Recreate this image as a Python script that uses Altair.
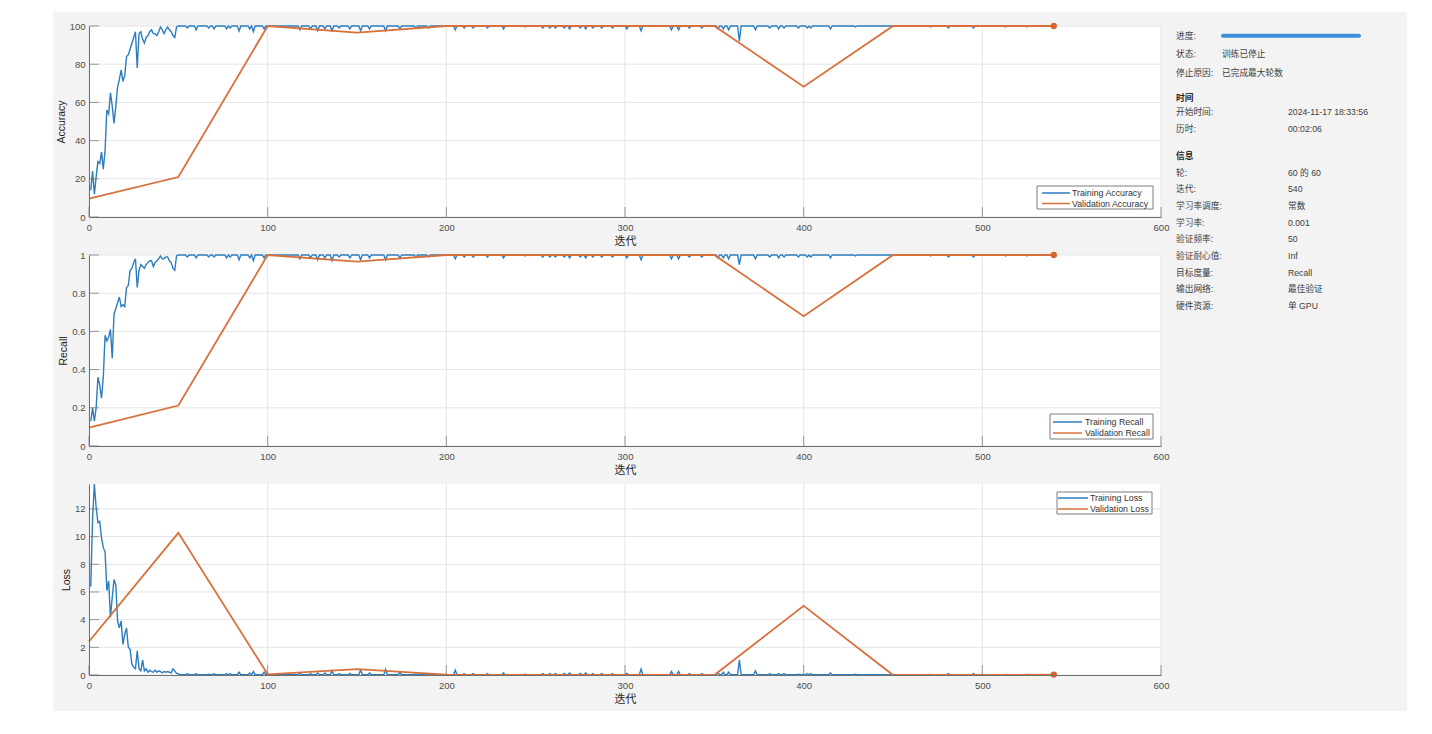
import altair as alt
import pandas as pd

# ---------------- data ----------------
iterations_total = 540

train_acc_early = [14, 24, 12, 21, 29, 28, 34, 25, 35, 56, 54, 65, 58, 49, 58, 68, 72, 77, 71, 74,
                   84, 85, 88, 91, 94, 97, 78, 96, 97, 93, 91, 94, 95, 97, 98, 96, 96, 95, 97, 99.5,
                   98, 96, 98, 99.5, 98, 97, 95, 94, 99.5, 100]
train_recall_early = [0.13, 0.20, 0.13, 0.20, 0.36, 0.32, 0.25, 0.36, 0.58, 0.55, 0.57, 0.61, 0.46, 0.69,
                      0.72, 0.75, 0.78, 0.73, 0.74, 0.73, 0.83, 0.84, 0.92, 0.93, 0.96, 0.98, 0.83, 0.92,
                      0.95, 0.94, 0.93, 0.95, 0.96, 0.97, 0.97, 0.94, 0.96, 0.97, 0.98, 0.995, 0.98, 0.98,
                      0.99, 0.99, 0.97, 0.96, 0.93, 0.92, 0.995, 1.0]
train_loss_early = [6.4, 11.3, 13.8, 12.1, 11.0, 11.1, 9.9, 9.2, 8.9, 6.1, 6.8, 4.15, 5.6, 6.9, 6.5, 3.9,
                    3.4, 3.9, 2.2, 2.95, 3.4, 2.0, 1.85, 0.8, 0.55, 0.45, 1.75, 0.45, 0.3, 1.1, 0.3, 0.45,
                    0.2, 0.35, 0.25, 0.2, 0.35, 0.2, 0.3, 0.25, 0.15, 0.25, 0.2, 0.25, 0.2, 0.15, 0.45,
                    0.3, 0.12, 0.08]

# after the early phase the training curves sit on a plateau, with these dips / spikes
plateau_acc = 100.0
plateau_recall = 1.0
plateau_loss = 0.02
dip_iters = [55, 60, 67, 70, 77, 79, 84, 90, 92, 98, 118, 124, 128, 132, 136, 140, 146, 152, 157, 166,
             174, 183, 190, 205, 210, 215, 223, 232, 244, 254, 258, 261, 266, 269, 275, 278, 282, 287,
             293, 301, 309, 326, 330, 336, 343, 352, 355, 358, 364, 373, 381, 386, 389, 397, 402, 404,
             415, 429, 471, 481, 495, 513, 525]
dip_acc = [99, 98, 99, 98.5, 98.5, 99, 97.4, 98.5, 97, 98.5, 98, 98.5, 97.5, 98.5, 97.5, 99, 98.5, 97.5,
           98.5, 97.5, 98.5, 99, 99, 98, 99, 99, 99, 98.5, 99.5, 99, 99, 99, 99, 98.5, 99, 98.5, 99, 99,
           99, 98.5, 97.5, 98, 98, 99, 99, 98.5, 98.5, 98, 92, 98, 99, 98.5, 99, 99, 99, 99, 98.5, 99.5,
           99.5, 99, 99, 99.5, 99.5]
dip_recall = [0.99, 0.985, 0.99, 0.99, 0.985, 0.99, 0.975, 0.985, 0.97, 0.985, 0.98, 0.985, 0.975, 0.985,
              0.97, 0.99, 0.985, 0.975, 0.985, 0.975, 0.985, 0.99, 0.99, 0.98, 0.99, 0.99, 0.99, 0.985,
              0.995, 0.99, 0.99, 0.99, 0.99, 0.985, 0.99, 0.985, 0.99, 0.99, 0.99, 0.985, 0.975, 0.98,
              0.98, 0.99, 0.99, 0.985, 0.985, 0.98, 0.95, 0.98, 0.99, 0.985, 0.99, 0.99, 0.99, 0.99,
              0.985, 0.995, 0.995, 0.99, 0.99, 0.995, 0.995]
dip_loss = [0.1, 0.08, 0.05, 0.08, 0.1, 0.1, 0.2, 0.15, 0.25, 0.2, 0.15, 0.1, 0.15, 0.15, 0.3, 0.1, 0.12,
            0.36, 0.15, 0.4, 0.2, 0.1, 0.1, 0.35, 0.08, 0.1, 0.1, 0.15, 0.05, 0.1, 0.1, 0.1, 0.12, 0.15,
            0.12, 0.15, 0.1, 0.1, 0.1, 0.12, 0.43, 0.25, 0.25, 0.1, 0.08, 0.15, 0.2, 0.2, 1.1, 0.3, 0.08,
            0.1, 0.1, 0.05, 0.1, 0.1, 0.15, 0.05, 0.04, 0.1, 0.1, 0.04, 0.04]

val_iters = [0, 50, 100, 150, 200, 250, 300, 350, 400, 450, 500, 540]
val_acc = [9.6, 20.9, 100, 96.5, 100, 100, 100, 100, 68.2, 100, 100, 100]
val_recall = [0.096, 0.212, 1.0, 0.965, 1.0, 1.0, 1.0, 1.0, 0.68, 1.0, 1.0, 1.0]
val_loss = [2.42, 10.27, 0.05, 0.43, 0.02, 0.0, 0.0, 0.0, 5.0, 0.0, 0.0, 0.03]

x_ticks = [0, 100, 200, 300, 400, 500, 600]
acc_ticks = [0, 20, 40, 60, 80, 100]
recall_ticks = [0, 0.2, 0.4, 0.6, 0.8, 1]
loss_ticks = [0, 2, 4, 6, 8, 10, 12]

legend_acc = ["Training Accuracy", "Validation Accuracy"]
legend_recall = ["Training Recall", "Validation Recall"]
legend_loss = ["Training Loss", "Validation Loss"]

info_labels = ["进度:", "状态:", "停止原因:", "时间", "开始时间:", "历时:", "信息", "轮:", "迭代:",
               "学习率调度:", "学习率:", "验证频率:", "验证耐心值:", "目标度量:", "输出网络:", "硬件资源:"]
info_values = ["", "训练已停止", "已完成最大轮数", "", "2024-11-17 18:33:56", "00:02:06", "", "60 的 60",
               "540", "常数", "0.001", "50", "Inf", "Recall", "最佳验证", "单 GPU"]
info_headers = ["时间", "信息"]

# ---------------- build tables ----------------
def build(early, plateau, dips):
    dmap = dict(zip(dip_iters, dips))
    out = []
    for it in range(1, iterations_total + 1):
        if it <= len(early):
            out.append(early[it - 1])
        elif it in dmap:
            out.append(dmap[it])
        else:
            out.append(plateau)
    return out

train_df = pd.DataFrame({
    "it": list(range(1, iterations_total + 1)),
    "acc": build(train_acc_early, plateau_acc, dip_acc),
    "recall": build(train_recall_early, plateau_recall, dip_recall),
    "loss": build(train_loss_early, plateau_loss, dip_loss),
})
val_df = pd.DataFrame({"it": val_iters, "acc": val_acc, "recall": val_recall, "loss": val_loss})
last_df = val_df.iloc[[-1]]
one = pd.DataFrame({"k": [0]})

# ---------------- style / layout ----------------
W, H = 1072, 191
BLUE = "#2c7dc0"
ORANGE = "#d9703a"
GRID = "#e4e4e4"
AXIS = "#707070"
LABEL = "#4d4d4d"
TITLE = "#262626"
FIG_BG = "#f3f3f3"
FONT = "Liberation Sans, Noto Sans CJK SC"

x_scale = alt.Scale(domain=[0, 600], nice=False, zero=False)


def legend_layers(box, rows, line_x, text_x, labels):
    out = [alt.Chart(one).mark_rect(fill="white", stroke="#7d7d7d", strokeWidth=1).encode(
        x=alt.value(box[0]), x2=alt.value(box[2]), y=alt.value(box[1]), y2=alt.value(box[3]))]
    for lab, col, ry in zip(labels, [BLUE, ORANGE], rows):
        out.append(alt.Chart(one).mark_rule(color=col, strokeWidth=1.5).encode(
            x=alt.value(line_x[0]), x2=alt.value(line_x[1]), y=alt.value(ry)))
        out.append(alt.Chart(one).mark_text(text=lab, align="left", baseline="middle", fontSize=8.8,
                                            font=FONT, color="#333333").encode(
            x=alt.value(text_x), y=alt.value(ry)))
    return out


def panel(col, ytitle, ydom, yticks, labels, leg, first=False):
    ys = alt.Scale(domain=ydom, nice=False, zero=False)
    xaxis = alt.Axis(values=x_ticks, title="迭代", grid=False, ticks=False, labelFlush=False,
                     labelOverlap=False, labelPadding=5, titlePadding=4, zindex=1,
                     domainColor=AXIS, labelColor=LABEL, titleColor=TITLE, labelFontSize=9.5,
                     titleFontSize=11, labelFont=FONT, titleFont=FONT, titleFontWeight="normal")
    yaxis = alt.Axis(values=yticks, format=".6~g", title=ytitle, grid=False, ticks=False,
                     labelFlush=False, labelOverlap=False, labelPadding=4, titlePadding=3, zindex=1,
                     domainColor=AXIS, labelColor=LABEL, titleColor=TITLE, labelFontSize=9.5,
                     titleFontSize=10.5, labelFont=FONT, titleFont=FONT, titleFontWeight="normal")
    X = lambda f: alt.X(f, scale=x_scale, axis=xaxis)
    Y = lambda f: alt.Y(f, scale=ys, axis=yaxis)
    layers = []
    if first:
        layers.append(alt.Chart(one).mark_rect(fill=FIG_BG).encode(
            x=alt.value(-36), x2=alt.value(1318), y=alt.value(-14), y2=alt.value(685)))
        layers.append(alt.Chart(one).mark_rect(fill="white").encode(
            x=alt.value(0), x2=alt.value(W), y=alt.value(0), y2=alt.value(H)))
    xt = pd.DataFrame({"v": x_ticks})
    yt = pd.DataFrame({"v": yticks})
    layers.append(alt.Chart(xt).mark_rule(color=GRID, strokeWidth=1).encode(
        x=X("v:Q"), y=alt.value(0), y2=alt.value(H)))
    layers.append(alt.Chart(yt).mark_rule(color=GRID, strokeWidth=1).encode(
        y=Y("v:Q"), x=alt.value(0), x2=alt.value(W)))
    layers.append(alt.Chart(train_df).mark_line(color=BLUE, strokeWidth=1.4).encode(
        x=X("it:Q"), y=Y(f"{col}:Q")))
    layers.append(alt.Chart(val_df).mark_line(color=ORANGE, strokeWidth=1.8).encode(
        x=X("it:Q"), y=Y(f"{col}:Q")))
    layers.append(alt.Chart(last_df).mark_circle(color="#d6652d", opacity=1, size=40).encode(
        x=X("it:Q"), y=Y(f"{col}:Q")))
    layers.append(alt.Chart(xt).mark_tick(orient="vertical", size=10, thickness=1, color=AXIS).encode(
        x=X("v:Q"), y=alt.value(H - 5)))
    layers.append(alt.Chart(yt).mark_tick(orient="horizontal", size=10, thickness=1, color=AXIS).encode(
        y=Y("v:Q"), x=alt.value(5)))
    layers += legend_layers(*leg, labels)
    if first:
        # progress bar
        layers.append(alt.Chart(one).mark_rule(color="#3d8fdc", strokeWidth=4, strokeCap="round").encode(
            x=alt.value(1134), x2=alt.value(1270), y=alt.value(9.7)))
        row_y = [9.7, 28.3, 46.7, 72.3, 86.3, 103.3, 129.7, 146.7, 163.3, 180, 196.7, 213.3, 230,
                 246.7, 263.3, 280]
        value_x = [1133, 1133, 1133, 1199, 1199, 1199, 1199, 1199, 1199, 1199, 1199, 1199, 1199,
                   1199, 1199, 1199]
        for lab, val, ry, vx in zip(info_labels, info_values, row_y, value_x):
            head = lab in info_headers
            layers.append(alt.Chart(one).mark_text(
                text=lab, align="left", baseline="middle", fontSize=8.7, font=FONT,
                fontWeight="bold" if head else "normal",
                color="#222222" if head else "#404040").encode(x=alt.value(1087), y=alt.value(ry)))
            if val:
                layers.append(alt.Chart(one).mark_text(
                    text=val, align="left", baseline="middle", fontSize=8.7, font=FONT,
                    color="#404040").encode(x=alt.value(vx), y=alt.value(ry)))
    return alt.layer(*layers).properties(width=W, height=H)


p1 = panel("acc", "Accuracy", [0, 100], acc_ticks, legend_acc,
           ((948, 160, 1064, 183), (167, 177.5), (953, 981), 983), first=True)
p2 = panel("recall", "Recall", [0, 1], recall_ticks, legend_recall,
           ((961, 159, 1064, 184), (167, 178), (964, 993), 996))
p3 = panel("loss", "Loss", [0, 13.8], loss_ticks, legend_loss,
           ((968, 8, 1063, 30), (14, 25), (969, 999), 1001))

chart = alt.vconcat(p1, p2, p3, spacing=38, bounds="flush").properties(
    padding={"left": 45, "top": 4, "right": 10, "bottom": 10}
).configure(background="white").configure_view(stroke=None, fill="white")

chart.save("out.html", embed_options={"renderer": "svg", "actions": False})
